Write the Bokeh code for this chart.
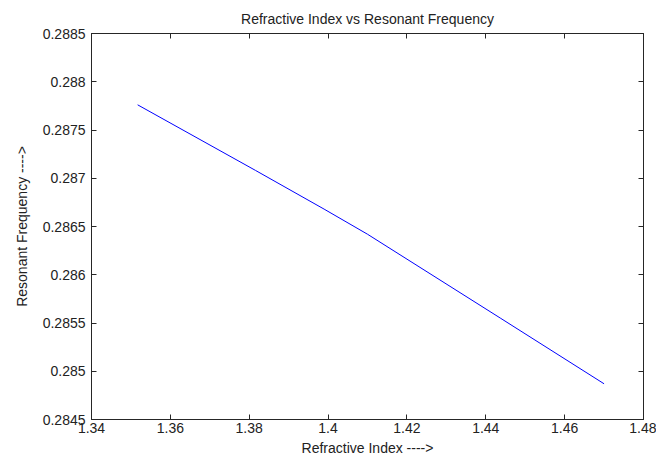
from bokeh.plotting import figure
from bokeh.models import LinearAxis, FixedTicker, Range1d
from bokeh.embed import file_html
from bokeh.resources import INLINE

# data
refractive_index = [1.3517, 1.3816, 1.3990, 1.4100, 1.4438, 1.4700]
resonant_freq = [0.287761, 0.287081, 0.286680, 0.286420, 0.285548, 0.284870]

x_ticks = [1.34, 1.36, 1.38, 1.40, 1.42, 1.44, 1.46, 1.48]
x_tick_labels = ["1.34", "1.36", "1.38", "1.4", "1.42", "1.44", "1.46", "1.48"]
y_ticks = [0.2845, 0.2850, 0.2855, 0.2860, 0.2865, 0.2870, 0.2875, 0.2880, 0.2885]
y_tick_labels = ["0.2845", "0.285", "0.2855", "0.286", "0.2865", "0.287", "0.2875", "0.288", "0.2885"]

FONT = "Liberation Sans"
FS = "14px"

p = figure(width=656, height=459, output_backend="svg", toolbar_location=None,
           x_range=Range1d(1.34, 1.48), y_range=Range1d(0.2845, 0.2885),
           title="Refractive Index vs Resonant Frequency",
           x_axis_label="Refractive Index ---->", y_axis_label="Resonant Frequency ---->",
           min_border_left=91, min_border_right=13, min_border_top=33, min_border_bottom=40)

p.line(refractive_index, resonant_freq, line_color="#0000ff", line_width=1)

p.grid.visible = False
p.outline_line_color = "#262626"
p.outline_line_width = 1
p.background_fill_color = "white"
p.border_fill_color = "white"

p.title.text_font = FONT
p.title.text_font_size = FS
p.title.text_font_style = "normal"
p.title.align = "center"
p.title.text_color = "#222222"
p.title.standoff = 14

xa = p.xaxis[0]
ya = p.yaxis[0]
xa.ticker = FixedTicker(ticks=x_ticks)
ya.ticker = FixedTicker(ticks=y_ticks)
xa.major_label_overrides = dict(zip(x_ticks, x_tick_labels))
ya.major_label_overrides = dict(zip(y_ticks, y_tick_labels))

for ax in (xa, ya):
    ax.major_tick_in = 5
    ax.major_tick_out = 0
    ax.minor_tick_in = 0
    ax.minor_tick_out = 0
    ax.axis_line_color = "#262626"
    ax.major_tick_line_color = "#262626"
    ax.major_label_text_font = FONT
    ax.major_label_text_font_size = FS
    ax.major_label_text_color = "#222222"
    ax.axis_label_text_font = FONT
    ax.axis_label_text_font_size = FS
    ax.axis_label_text_font_style = "normal"
    ax.axis_label_text_color = "#222222"

xa.major_label_standoff = 3
xa.axis_label_standoff = 4
ya.major_label_standoff = 6
ya.axis_label_standoff = 10

# tick marks on top and right (box), without labels
top = LinearAxis(ticker=FixedTicker(ticks=x_ticks))
right = LinearAxis(ticker=FixedTicker(ticks=y_ticks))
for ax in (top, right):
    ax.major_tick_in = 5
    ax.major_tick_out = 0
    ax.minor_tick_in = 0
    ax.minor_tick_out = 0
    ax.axis_line_color = "#262626"
    ax.major_tick_line_color = "#262626"
    ax.major_label_text_font_size = "1px"
    ax.major_label_text_color = None
    ax.major_label_standoff = 0
p.add_layout(top, "above")
p.add_layout(right, "right")

open("out.html", "w").write(file_html(p, INLINE))
